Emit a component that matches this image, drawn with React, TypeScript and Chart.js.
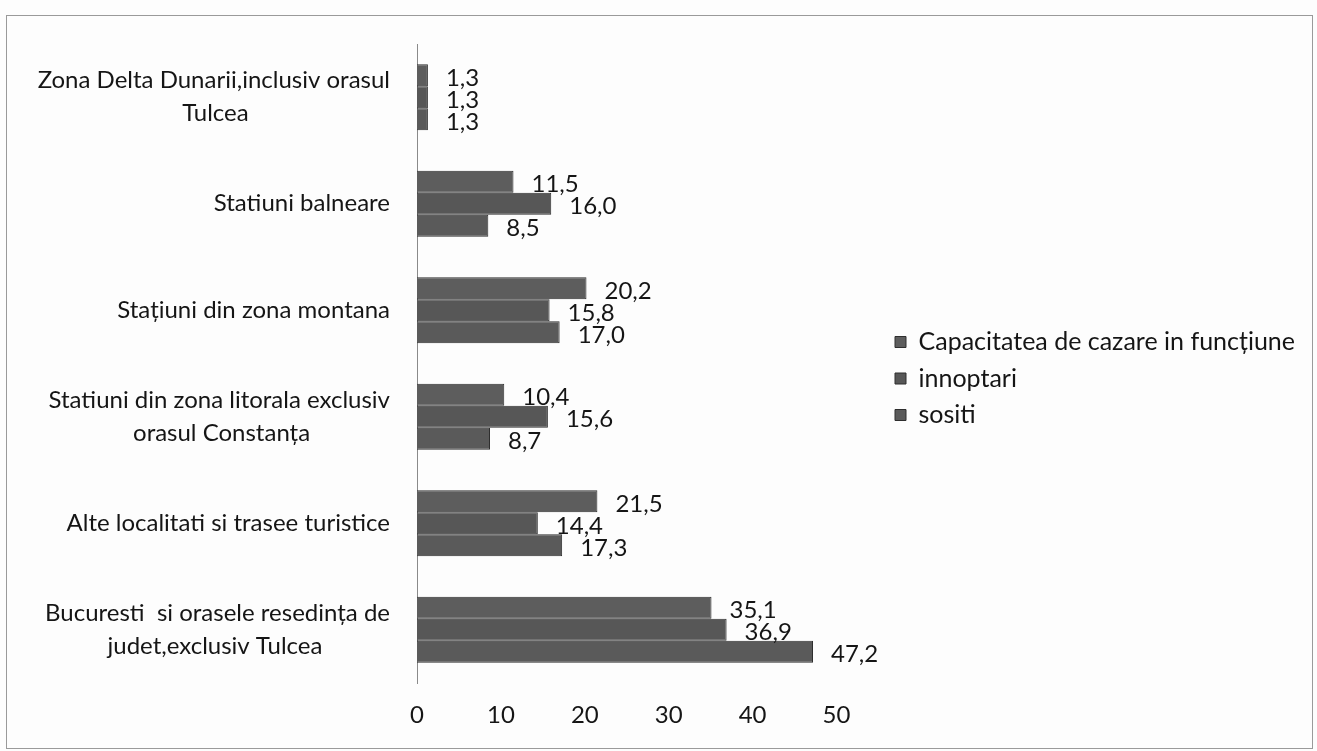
import React, { useEffect, useRef } from 'react';
import { Chart, registerables } from 'chart.js';

Chart.register(...registerables);

const categories: string[][] = [
  ['Zona Delta Dunarii,inclusiv orasul', 'Tulcea'],
  ['Statiuni balneare'],
  ['Stațiuni din zona montana'],
  ['Statiuni din zona litorala exclusiv', 'orasul Constanța'],
  ['Alte localitati si trasee turistice'],
  ['Bucuresti  si orasele resedința de', 'judet,exclusiv Tulcea'],
];
const seriesNames = ['Capacitatea de cazare in funcțiune', 'innoptari', 'sositi'];
const capacitate = [1.3, 11.5, 20.2, 10.4, 21.5, 35.1];
const innoptari = [1.3, 16.0, 15.8, 15.6, 14.4, 36.9];
const sositi = [1.3, 8.5, 17.0, 8.7, 17.3, 47.2];
const xTickValues = [0, 10, 20, 30, 40, 50];

const FONT = 'Lato';
const FONT_SIZE = 24;
const TEXT = '#151515';

const measureCtx = (() => {
  const c = document.createElement('canvas');
  return c.getContext('2d') as CanvasRenderingContext2D;
})();

function centerLines(lines: string[]): string[] | string {
  if (lines.length === 1) return lines[0];
  measureCtx.font = `${FONT_SIZE}px ${FONT}`;
  const widths = lines.map((l) => measureCtx.measureText(l).width);
  const maxW = Math.max(...widths);
  const sp = measureCtx.measureText(' ').width || 5;
  return lines.map((l, i) => {
    const n = Math.round((maxW - widths[i]) / 2 / sp);
    return l + ' '.repeat(Math.max(0, n));
  });
}

const frameAndBg = {
  id: 'frameAndBg',
  beforeDraw(chart: any) {
    const { ctx, width, height } = chart;
    ctx.save();
    ctx.fillStyle = '#fdfdfd';
    ctx.fillRect(0, 0, width, height);
    ctx.strokeStyle = '#9a9a9a';
    ctx.lineWidth = 1;
    ctx.strokeRect(6.5, 15.5, width - 11, height - 18);
    ctx.restore();
  },
};

const valueLabels = {
  id: 'valueLabels',
  afterDatasetsDraw(chart: any) {
    const ctx = chart.ctx;
    ctx.save();
    ctx.font = `${FONT_SIZE}px ${FONT}`;
    ctx.fillStyle = TEXT;
    ctx.textAlign = 'left';
    ctx.textBaseline = 'middle';
    chart.data.datasets.forEach((ds: any, i: number) => {
      chart.getDatasetMeta(i).data.forEach((bar: any, j: number) => {
        const v = ds.data[j] as number;
        ctx.fillText(v.toFixed(1).replace('.', ','), bar.x + 18, bar.y + 3);
      });
    });
    ctx.restore();
  },
};

export default function App() {
  const ref = useRef<HTMLCanvasElement | null>(null);

  useEffect(() => {
    if (!ref.current) return;
    const barCommon = {
      borderColor: '#2e2e2e',
      borderWidth: 1,
      categoryPercentage: 0.62,
      barPercentage: 1.0,
    };
    const chart = new Chart(ref.current, {
      type: 'bar',
      data: {
        labels: categories.map((c) => centerLines(c)) as any,
        datasets: [
          { label: seriesNames[0], data: capacitate, backgroundColor: '#5d5d5d', ...barCommon },
          { label: seriesNames[1], data: innoptari, backgroundColor: '#575757', ...barCommon },
          { label: seriesNames[2], data: sositi, backgroundColor: '#5a5a5a', ...barCommon },
        ],
      },
      options: {
        indexAxis: 'y',
        animation: false,
        responsive: false,
        maintainAspectRatio: false,
        layout: { padding: { top: 28, bottom: 22, right: 12, left: 0 } },
        plugins: {
          legend: {
            position: 'right',
            align: 'center',
            maxWidth: 520,
            labels: {
              boxWidth: 11,
              boxHeight: 11,
              padding: 11.5,
              color: TEXT,
              font: { family: FONT, size: 25 },
            },
          },
          tooltip: { enabled: false },
        },
        scales: {
          x: {
            type: 'linear',
            min: 0,
            max: 55.6,
            grid: { display: false, drawTicks: false },
            border: { display: false },
            afterFit: (s: any) => {
              s.height = 46;
            },
            ticks: {
              stepSize: 10,
              includeBounds: false,
              autoSkip: false,
              maxRotation: 0,
              padding: 18,
              color: TEXT,
              font: { family: FONT, size: FONT_SIZE, lineHeight: 1.15 },
              callback: (v: any) => (xTickValues.includes(Number(v)) ? String(v) : ''),
            },
          },
          y: {
            type: 'category',
            grid: { display: false, drawTicks: false },
            border: { display: true, color: '#8a8a8a', width: 1 },
            afterFit: (s: any) => {
              s.width = 417;
              s.paddingTop = 44;
              s.paddingBottom = 0;
            },
            ticks: {
              padding: 27,
              color: TEXT,
              font: { family: FONT, size: FONT_SIZE, lineHeight: 1.375 },
            },
          },
        },
      },
      plugins: [frameAndBg, valueLabels],
    });
    return () => chart.destroy();
  }, []);

  return (
    <div style={{ position: 'fixed', left: 0, top: 0, width: 1317, height: 751, background: '#fdfdfd' }}>
      <canvas ref={ref} width={1317} height={751} style={{ display: 'block', width: 1317, height: 751 }} />
    </div>
  );
}
